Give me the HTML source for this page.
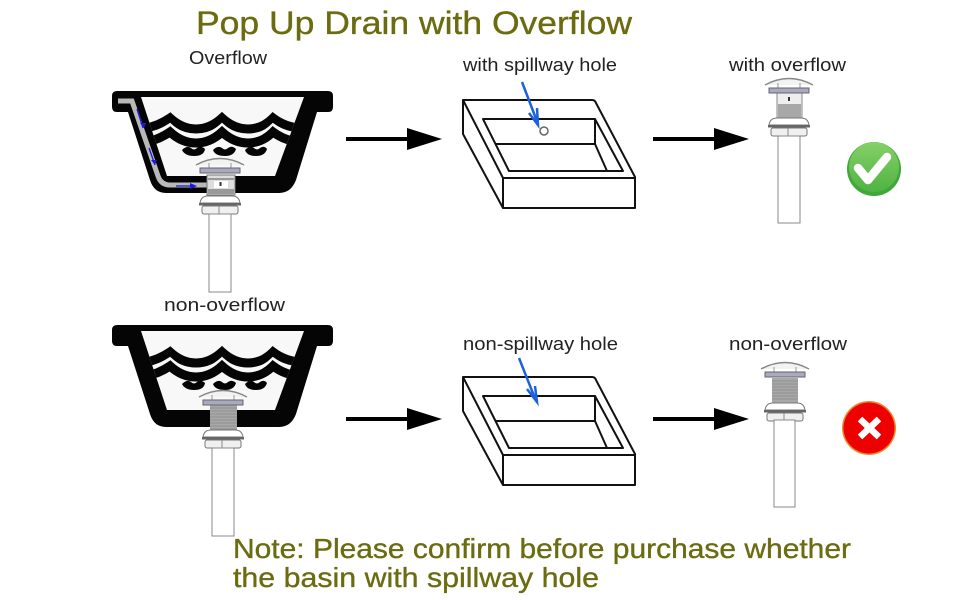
<!DOCTYPE html>
<html><head><meta charset="utf-8"><style>
html,body{margin:0;padding:0;background:#fff}
svg{display:block}
text{font-family:"Liberation Sans",sans-serif}
.l{font-size:18px;fill:#222}
.o{font-size:28px;fill:#6b6b10;stroke:#6b6b10;stroke-width:.35}
.s{fill:none;stroke:#111;stroke-width:2;stroke-linejoin:round;stroke-linecap:round}
.d{fill:#fff;stroke:#888;stroke-width:1}
</style></head><body>
<svg width="970" height="600" viewBox="0 0 970 600" xmlns="http://www.w3.org/2000/svg">
<defs>
<clipPath id="tr"><path d="M141 97H304L275 176H167Z"/></clipPath>
<linearGradient id="gg" x1="0" y1="0" x2="0" y2="1"><stop offset="0" stop-color="#86d069"/><stop offset="1" stop-color="#4fb342"/></linearGradient>
<path id="wv" d="M146 128Q158 126 170 118Q182 129 196 129Q210 129 222 118Q234 129 248 129Q262 129 273 118Q285 127 300 128" fill="none"/>
<g id="sink">
<path class="s" d="M463 100H592Q595 100 596 103L635 177V208H503L463 134ZM463 100L503 178H635M503 178V208M483 119H595L623 171H509ZM496 144H595V119M595 144L607 171"/>
</g>
<g id="bhd">
<path d="M112 96Q112 91 117 91H328Q333 91 333 96V107Q333 112 328 112H317L296 180Q291 193 279 193H166Q154 193 150 180L128 112H117Q112 112 112 107Z" fill="#050505"/>
<path d="M141 97H304L275 176H167Z" fill="#f8f8f8"/>
<g clip-path="url(#tr)">
<use href="#wv" stroke="#050505" stroke-width="9"/>
<use href="#wv" y="7" stroke="#f8f8f8" stroke-width="3.500"/>
<use href="#wv" y="14" stroke="#050505" stroke-width="9"/>
</g>
<path d="M182 150Q187 145 191 148Q194 151 197 148Q201 145 205 149Q204 156 194 156Q185 156 182 150ZM213 150Q218 145 222 148Q225 151 228 148Q232 145 236 149Q234 156 225 156Q215 156 213 150ZM245 150Q250 145 254 148Q257 151 260 148Q264 145 267 149Q265 156 256 156Q247 156 245 150Z" fill="#050505"/>
</g>
<g id="top">
<path d="M-24 8Q0 -5 24 8" fill="#f2f2f2" stroke="#888" stroke-width="1.4"/>
<path d="M-11 6V11M11 6V11" stroke="#999"/>
<rect x="-20" y="11" width="40" height="5" fill="#a9a9c2" stroke="#666"/>
</g>
<g id="lower">
<path d="M-20 7Q-19 0 -12 0H12Q19 0 20 7Z" fill="#fff" stroke="#777"/>
<rect x="-21" y="7" width="42" height="2.5" fill="#666"/>
<rect x="-18" y="10" width="36" height="8" rx="2" fill="#f0f0f0" stroke="#777"/>
<path d="M-1 10V18" stroke="#888"/>
</g>
</defs>
<rect width="970" height="600" fill="#fff"/>

<text x="196" y="34" class="o" style="font-size:32px" textLength="436" lengthAdjust="spacingAndGlyphs">Pop Up Drain with Overflow</text>
<text x="189" y="64" class="l" textLength="78" lengthAdjust="spacingAndGlyphs">Overflow</text>
<text x="463" y="71" class="l" textLength="154" lengthAdjust="spacingAndGlyphs">with spillway hole</text>
<text x="729" y="71" class="l" textLength="117" lengthAdjust="spacingAndGlyphs">with overflow</text>
<text x="164" y="311" class="l" textLength="121" lengthAdjust="spacingAndGlyphs">non-overflow</text>
<text x="463" y="350" class="l" textLength="155" lengthAdjust="spacingAndGlyphs">non-spillway hole</text>
<text x="729" y="350" class="l" textLength="118" lengthAdjust="spacingAndGlyphs">non-overflow</text>
<text x="233" y="558" class="o" textLength="618" lengthAdjust="spacingAndGlyphs">Note: Please confirm before purchase whether</text>
<text x="233" y="587" class="o" textLength="366" lengthAdjust="spacingAndGlyphs">the basin with spillway hole</text>

<!-- Basin 1 -->
<use href="#bhd"/>
<path d="M118 101H132L158 176Q161 185 170 185H208" fill="none" stroke="#b9b9b9" stroke-width="5"/>
<path d="M137 109L143 128M149 148L155 165M176 186H196" stroke="#1a1ae0" stroke-width="1.3" fill="none"/>
<path d="M144 128L140 123H146ZM155 165L151 160H157ZM197 186L190 183V189Z" fill="#1a1ae0"/>
<rect x="207" y="175" width="28" height="20" fill="#ddd" stroke="#777"/>
<rect x="208" y="178" width="26" height="2" fill="#999"/>
<rect x="208" y="189" width="26" height="5" fill="#999"/>
<rect x="214" y="181" width="14" height="7" fill="#fff"/>
<rect x="219.500" y="182" width="2" height="4" fill="#333"/>
<use href="#top" x="220" y="157"/>
<use href="#lower" x="220" y="196"/>
<rect x="209" y="214" width="22" height="78" class="d"/>

<!-- Basin 2 -->
<use href="#bhd" y="234"/>
<rect x="210" y="405" width="27" height="26" fill="#a8a8a8"/>
<path d="M210 408H237M210 411H237M210 414H237M210 417H237M210 420H237M210 423H237M210 426H237M210 429H237" stroke="#888" stroke-width=".8"/>
<use href="#top" x="223" y="389"/>
<use href="#lower" x="223" y="430"/>
<rect x="212" y="448" width="22" height="88" class="d"/>

<!-- Sinks -->
<use href="#sink"/>
<circle cx="544" cy="131" r="4" fill="#fff" stroke="#666" stroke-width="1.5"/>
<path d="M522 82L538 124M529 113L538 125L537 108" fill="none" stroke="#1d62d8" stroke-width="2.500"/>
<use href="#sink" y="277"/>
<path d="M519 358L536 401M527 389L537 402L535 386" fill="none" stroke="#1d62d8" stroke-width="2.500"/>

<!-- Black arrows -->
<g id="arr"><path d="M346 137H407V128L442 139L407 150V141H346Z" fill="#000"/>
<path d="M653 137H714V128L749 139L714 150V141H653Z" fill="#000"/></g>
<use href="#arr" y="280"/>

<!-- Right drain 1 -->
<rect x="777" y="93" width="25" height="26" fill="#eee" stroke="#888"/>
<rect x="778" y="104" width="23" height="15" fill="#a8a8a8"/>
<rect x="788" y="97" width="2" height="4" fill="#333"/>
<use href="#top" x="789" y="77"/>
<use href="#lower" x="789" y="118"/>
<rect x="778" y="136" width="22" height="87" class="d"/>

<!-- Right drain 2 -->
<rect x="772" y="378" width="26" height="25" fill="#a8a8a8"/>
<path d="M772 381H798M772 384H798M772 387H798M772 390H798M772 393H798M772 396H798M772 399H798" stroke="#888" stroke-width=".8"/>
<use href="#top" x="785" y="361"/>
<use href="#lower" x="785" y="403"/>
<rect x="774" y="420" width="21" height="87" class="d"/>

<!-- Badges -->
<circle cx="874" cy="169" r="27" fill="#3fa83a"/>
<circle cx="874" cy="167" r="25" fill="url(#gg)"/>
<path d="M858 168L868 180L887 157" fill="none" stroke="#fff" stroke-width="8.500" stroke-linecap="round" stroke-linejoin="round"/>
<circle cx="869" cy="428" r="27" fill="#e98a2a"/>
<circle cx="869" cy="428" r="25.500" fill="#ee0000"/>
<path d="M860 419L879 437M879 419L860 437" stroke="#fff" stroke-width="6.500"/>
</svg>
</body></html>
